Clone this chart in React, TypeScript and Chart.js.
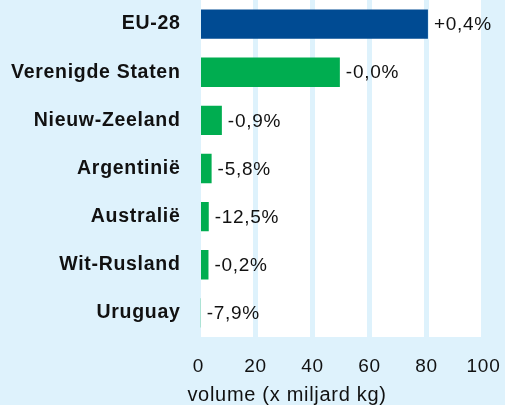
import React, { useEffect, useRef } from "react";
import { Chart, registerables } from "chart.js";

Chart.register(...registerables);

const categories = [
  "EU-28",
  "Verenigde Staten",
  "Nieuw-Zeeland",
  "Argentinië",
  "Australië",
  "Wit-Rusland",
  "Uruguay",
];
const volumes = [80.5, 49.6, 8.2, 4.6, 3.6, 3.5, 0.8];
const changeLabels = ["+0,4%", "-0,0%", "-0,9%", "-5,8%", "-12,5%", "-0,2%", "-7,9%"];
const xTicks = [0, 20, 40, 60, 80, 100];
const axisTitle = "volume (x miljard kg)";

const BG = "#DEF2FC";
const BLUE = "#004B93";
const GREEN = "#00AD50";
const TEXT = "#111111";
const FONT = "'Liberation Sans', Arial, sans-serif";

export default function App() {
  const ref = useRef<HTMLCanvasElement | null>(null);

  useEffect(() => {
    const canvas = ref.current;
    if (!canvas) return;

    const plotBg = {
      id: "plotBg",
      beforeDraw(chart: any) {
        const { ctx, chartArea } = chart;
        (ctx as any).letterSpacing = "0.7px";
        ctx.save();
        ctx.fillStyle = "#FFFFFF";
        ctx.fillRect(chartArea.left, chartArea.top, chartArea.right - chartArea.left, chartArea.bottom - chartArea.top);
        ctx.restore();
      },
    };

    const valueLabels = {
      id: "valueLabels",
      afterDatasetsDraw(chart: any) {
        const { ctx } = chart;
        const meta = chart.getDatasetMeta(0);
        ctx.save();
        ctx.font = `19px ${FONT}`;
        ctx.fillStyle = TEXT;
        ctx.textAlign = "left";
        ctx.textBaseline = "middle";
        meta.data.forEach((bar: any, i: number) => {
          ctx.fillText(changeLabels[i], bar.x + 6, bar.y + 1);
        });
        ctx.restore();
      },
    };

    const xTitle = {
      id: "xTitle",
      afterDraw(chart: any) {
        const { ctx, chartArea } = chart;
        ctx.save();
        ctx.font = `20px ${FONT}`;
        ctx.fillStyle = TEXT;
        ctx.textAlign = "center";
        ctx.textBaseline = "alphabetic";
        const cx = (chartArea.left + chartArea.right) / 2 - 54;
        ctx.fillText(axisTitle, cx, chartArea.bottom + 64);
        ctx.restore();
      },
    };

    const chart = new Chart(canvas, {
      type: "bar",
      data: {
        labels: categories,
        datasets: [
          {
            data: volumes,
            backgroundColor: categories.map((_, i) => (i === 0 ? BLUE : GREEN)),
            borderWidth: 0,
            barPercentage: 0.61,
            categoryPercentage: 1,
          },
        ],
      },
      options: {
        indexAxis: "y",
        animation: false,
        responsive: true,
        maintainAspectRatio: false,
        layout: { padding: { left: 0, right: 21.5, top: 0, bottom: 0 } },
        plugins: {
          legend: { display: false },
          tooltip: { enabled: false },
          title: { display: false },
        },
        scales: {
          x: {
            type: "linear",
            min: 0,
            max: 100,
            afterBuildTicks(scale: any) {
              scale.ticks = xTicks.map((v) => ({ value: v }));
            },
            afterFit(scale: any) {
              scale.height = 68;
              scale.paddingLeft = 0;
              scale.paddingRight = 0;
              scale.paddingTop = 0;
              scale.paddingBottom = 0;
            },
            grid: {
              color: BG,
              lineWidth: 5,
              drawTicks: false,
            },
            border: { display: false },
            ticks: {
              color: TEXT,
              font: { family: FONT, size: 19 },
              padding: 18,
              maxRotation: 0,
            },
          },
          y: {
            afterFit(scale: any) {
              scale.width = 198.5;
              scale.paddingLeft = 0;
              scale.paddingRight = 0;
              scale.paddingTop = 0;
              scale.paddingBottom = 0;
            },
            grid: { display: false, drawTicks: false },
            border: { display: false },
            ticks: {
              color: TEXT,
              font: { family: FONT, size: 19.5, weight: "bold" },
              padding: 18,
            },
          },
        },
      },
      plugins: [plotBg, valueLabels, xTitle],
    });

    return () => chart.destroy();
  }, []);

  return (
    <div
      style={{
        position: "fixed",
        left: 0,
        top: 0,
        width: 505,
        height: 405,
        background: BG,
      }}
    >
      <canvas ref={ref} />
    </div>
  );
}
